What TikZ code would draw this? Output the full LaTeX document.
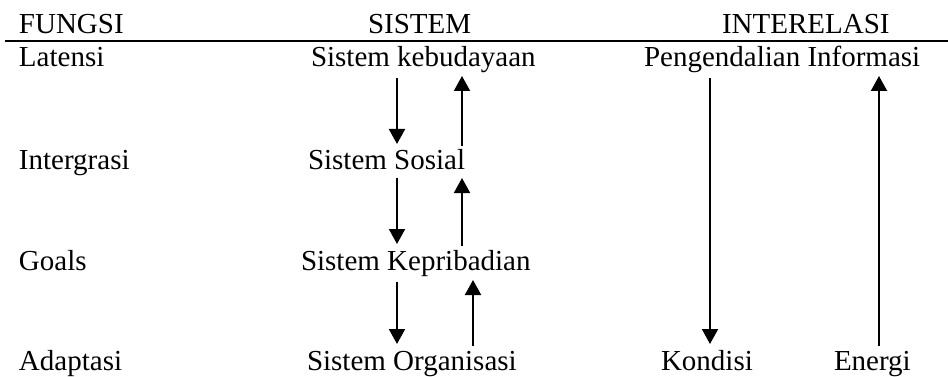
\documentclass[tikz,border=0pt]{standalone}
\usepackage{fontspec}
\setmainfont{Liberation Serif}
\usetikzlibrary{arrows.meta}
\tikzset{
  lbl/.style={anchor=base west, inner sep=0pt, outer sep=0pt, font=\fontsize{29}{34}\selectfont},
  arr/.style={line width=2pt, -{Triangle[width=16pt,length=15pt]}},
  rule/.style={line width=2.2pt}
}
\begin{document}
\begin{tikzpicture}[x=1pt,y=-1pt]
\useasboundingbox (0,0) rectangle (948,377);
% headers
\node[lbl] (hf) at (19,34) {FUNGSI};
\node[lbl] (hs) at (368,34) {SISTEM};
\node[lbl] (hi) at (722,34) {INTERELASI};
\coordinate (rl) at (5,40.7);
\coordinate (rr) at (948,40.7);
\draw[rule] (rl) -- (rr);
% left column
\node[lbl] (f1) at (19,67) {Latensi};
\node[lbl] (f2) at (19,169) {Intergrasi};
\node[lbl] (f3) at (19,270) {Goals};
\node[lbl] (f4) at (19,370) {Adaptasi};
% middle column
\node[lbl] (s1) at (311,67) {Sistem kebudayaan};
\node[lbl] (s2) at (308,169) {Sistem Sosial};
\node[lbl] (s3) at (301,270) {Sistem Kepribadian};
\node[lbl] (s4) at (307,370) {Sistem Organisasi};
% right column
\node[lbl] (i1) at (644,67) {Pengendalian Informasi};
\node[lbl] (i2) at (661,370) {Kondisi};
\node[lbl] (i3) at (834,370) {Energi};
% arrow end points
\coordinate (d1a) at (397,78);  \coordinate (d1b) at (397,144);
\coordinate (u1a) at (462,146); \coordinate (u1b) at (462,76);
\coordinate (d2a) at (397,178); \coordinate (d2b) at (397,244);
\coordinate (u2a) at (462,246); \coordinate (u2b) at (462,178);
\coordinate (d3a) at (397,282); \coordinate (d3b) at (397,344);
\coordinate (u3a) at (473,346); \coordinate (u3b) at (473,280);
\coordinate (kda) at (710,78);  \coordinate (kdb) at (710,344);
\coordinate (eua) at (879,346); \coordinate (eub) at (879,76);
\draw[arr] (d1a) -- (d1b);
\draw[arr] (u1a) -- (u1b);
\draw[arr] (d2a) -- (d2b);
\draw[arr] (u2a) -- (u2b);
\draw[arr] (d3a) -- (d3b);
\draw[arr] (u3a) -- (u3b);
\draw[arr] (kda) -- (kdb);
\draw[arr] (eua) -- (eub);
\end{tikzpicture}
\end{document}
